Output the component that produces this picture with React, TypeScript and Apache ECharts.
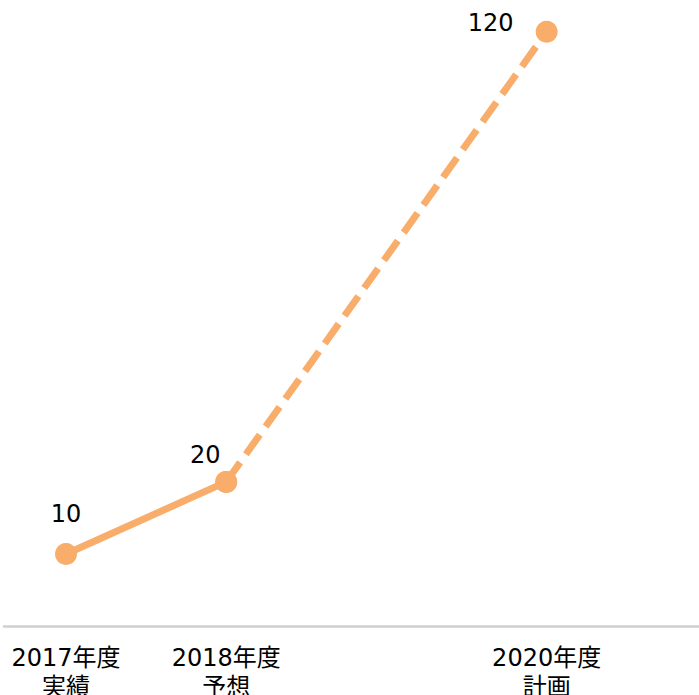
import React, { useEffect, useRef } from "react";
import * as echarts from "echarts";

// Fiscal years on the x axis and the values plotted at each
const years = [2017, 2018, 2020];
const yearLabels = ["2017年度\n実績", "2018年度\n予想", "2020年度\n計画"];
const actualValues = [10, 20]; // 実績 → 予想 (solid)
const planValues = [20, 120]; // 予想 → 計画 (dashed)

const LINE_COLOR = "#f9ad6a";
const FONT = "'DejaVu Sans', 'Noto Sans CJK JP', sans-serif";

export default function App() {
  const ref = useRef<HTMLDivElement>(null);

  useEffect(() => {
    if (!ref.current) return;
    const chart = echarts.init(ref.current, undefined, { renderer: "svg" });

    const labelOf = (v: number) => {
      const i = years.indexOf(Math.round(v));
      return i >= 0 ? yearLabels[i] : "";
    };

    const solidData = [
      {
        value: [years[0], actualValues[0]],
        label: { position: "top", distance: 17, offset: [0, 0] },
      },
      {
        value: [years[1], actualValues[1]],
        label: { position: "top", distance: 4, offset: [-21, 0] },
      },
    ];

    const dashedData = [
      { value: [years[1], planValues[0]], label: { show: false } },
      {
        value: [years[2], planValues[1]],
        label: { show: true, position: "left", distance: 22, offset: [0, -9] },
      },
    ];

    const option: any = {
      animation: false,
      backgroundColor: "#ffffff",
      grid: {
        left: 4,
        right: 0,
        top: 31.7,
        bottom: 69,
        containLabel: false,
        outerBoundsMode: "none",
      },
      xAxis: {
        type: "value",
        min: 2016.613,
        max: 2020.951,
        splitLine: { show: false },
        axisTick: { show: false },
        axisLine: { show: true, lineStyle: { color: "#cfcfcf", width: 2.5 } },
        axisLabel: {
          customValues: years,
          formatter: (v: number) => labelOf(v),
          color: "#000000",
          fontSize: 24,
          lineHeight: 29,
          fontFamily: FONT,
          margin: 17,
        },
      },
      yAxis: {
        type: "value",
        show: false,
        min: 0,
        max: 120,
        splitLine: { show: false },
        breaks: [{ start: 40, end: 77.5, gap: 0 }],
        breakArea: { show: false },
      },
      series: [
        {
          type: "line",
          data: solidData,
          clip: false,
          symbol: "circle",
          symbolSize: 22,
          itemStyle: { color: LINE_COLOR },
          lineStyle: { color: LINE_COLOR, width: 7, type: "solid" },
          label: {
            show: true,
            color: "#000000",
            fontSize: 24,
            fontFamily: FONT,
            formatter: (p: any) => String(p.value[1]),
          },
          z: 3,
        },
        {
          type: "line",
          data: dashedData,
          clip: false,
          symbol: "circle",
          symbolSize: 22,
          itemStyle: { color: LINE_COLOR },
          lineStyle: { color: LINE_COLOR, width: 7, type: [24, 10] },
          label: {
            color: "#000000",
            fontSize: 24,
            fontFamily: FONT,
            formatter: (p: any) => String(p.value[1]),
          },
          z: 2,
        },
      ],
    };

    chart.setOption(option);
    return () => chart.dispose();
  }, []);

  return (
    <div
      ref={ref}
      style={{ position: "fixed", left: 0, top: 0, width: 699, height: 695 }}
    />
  );
}
